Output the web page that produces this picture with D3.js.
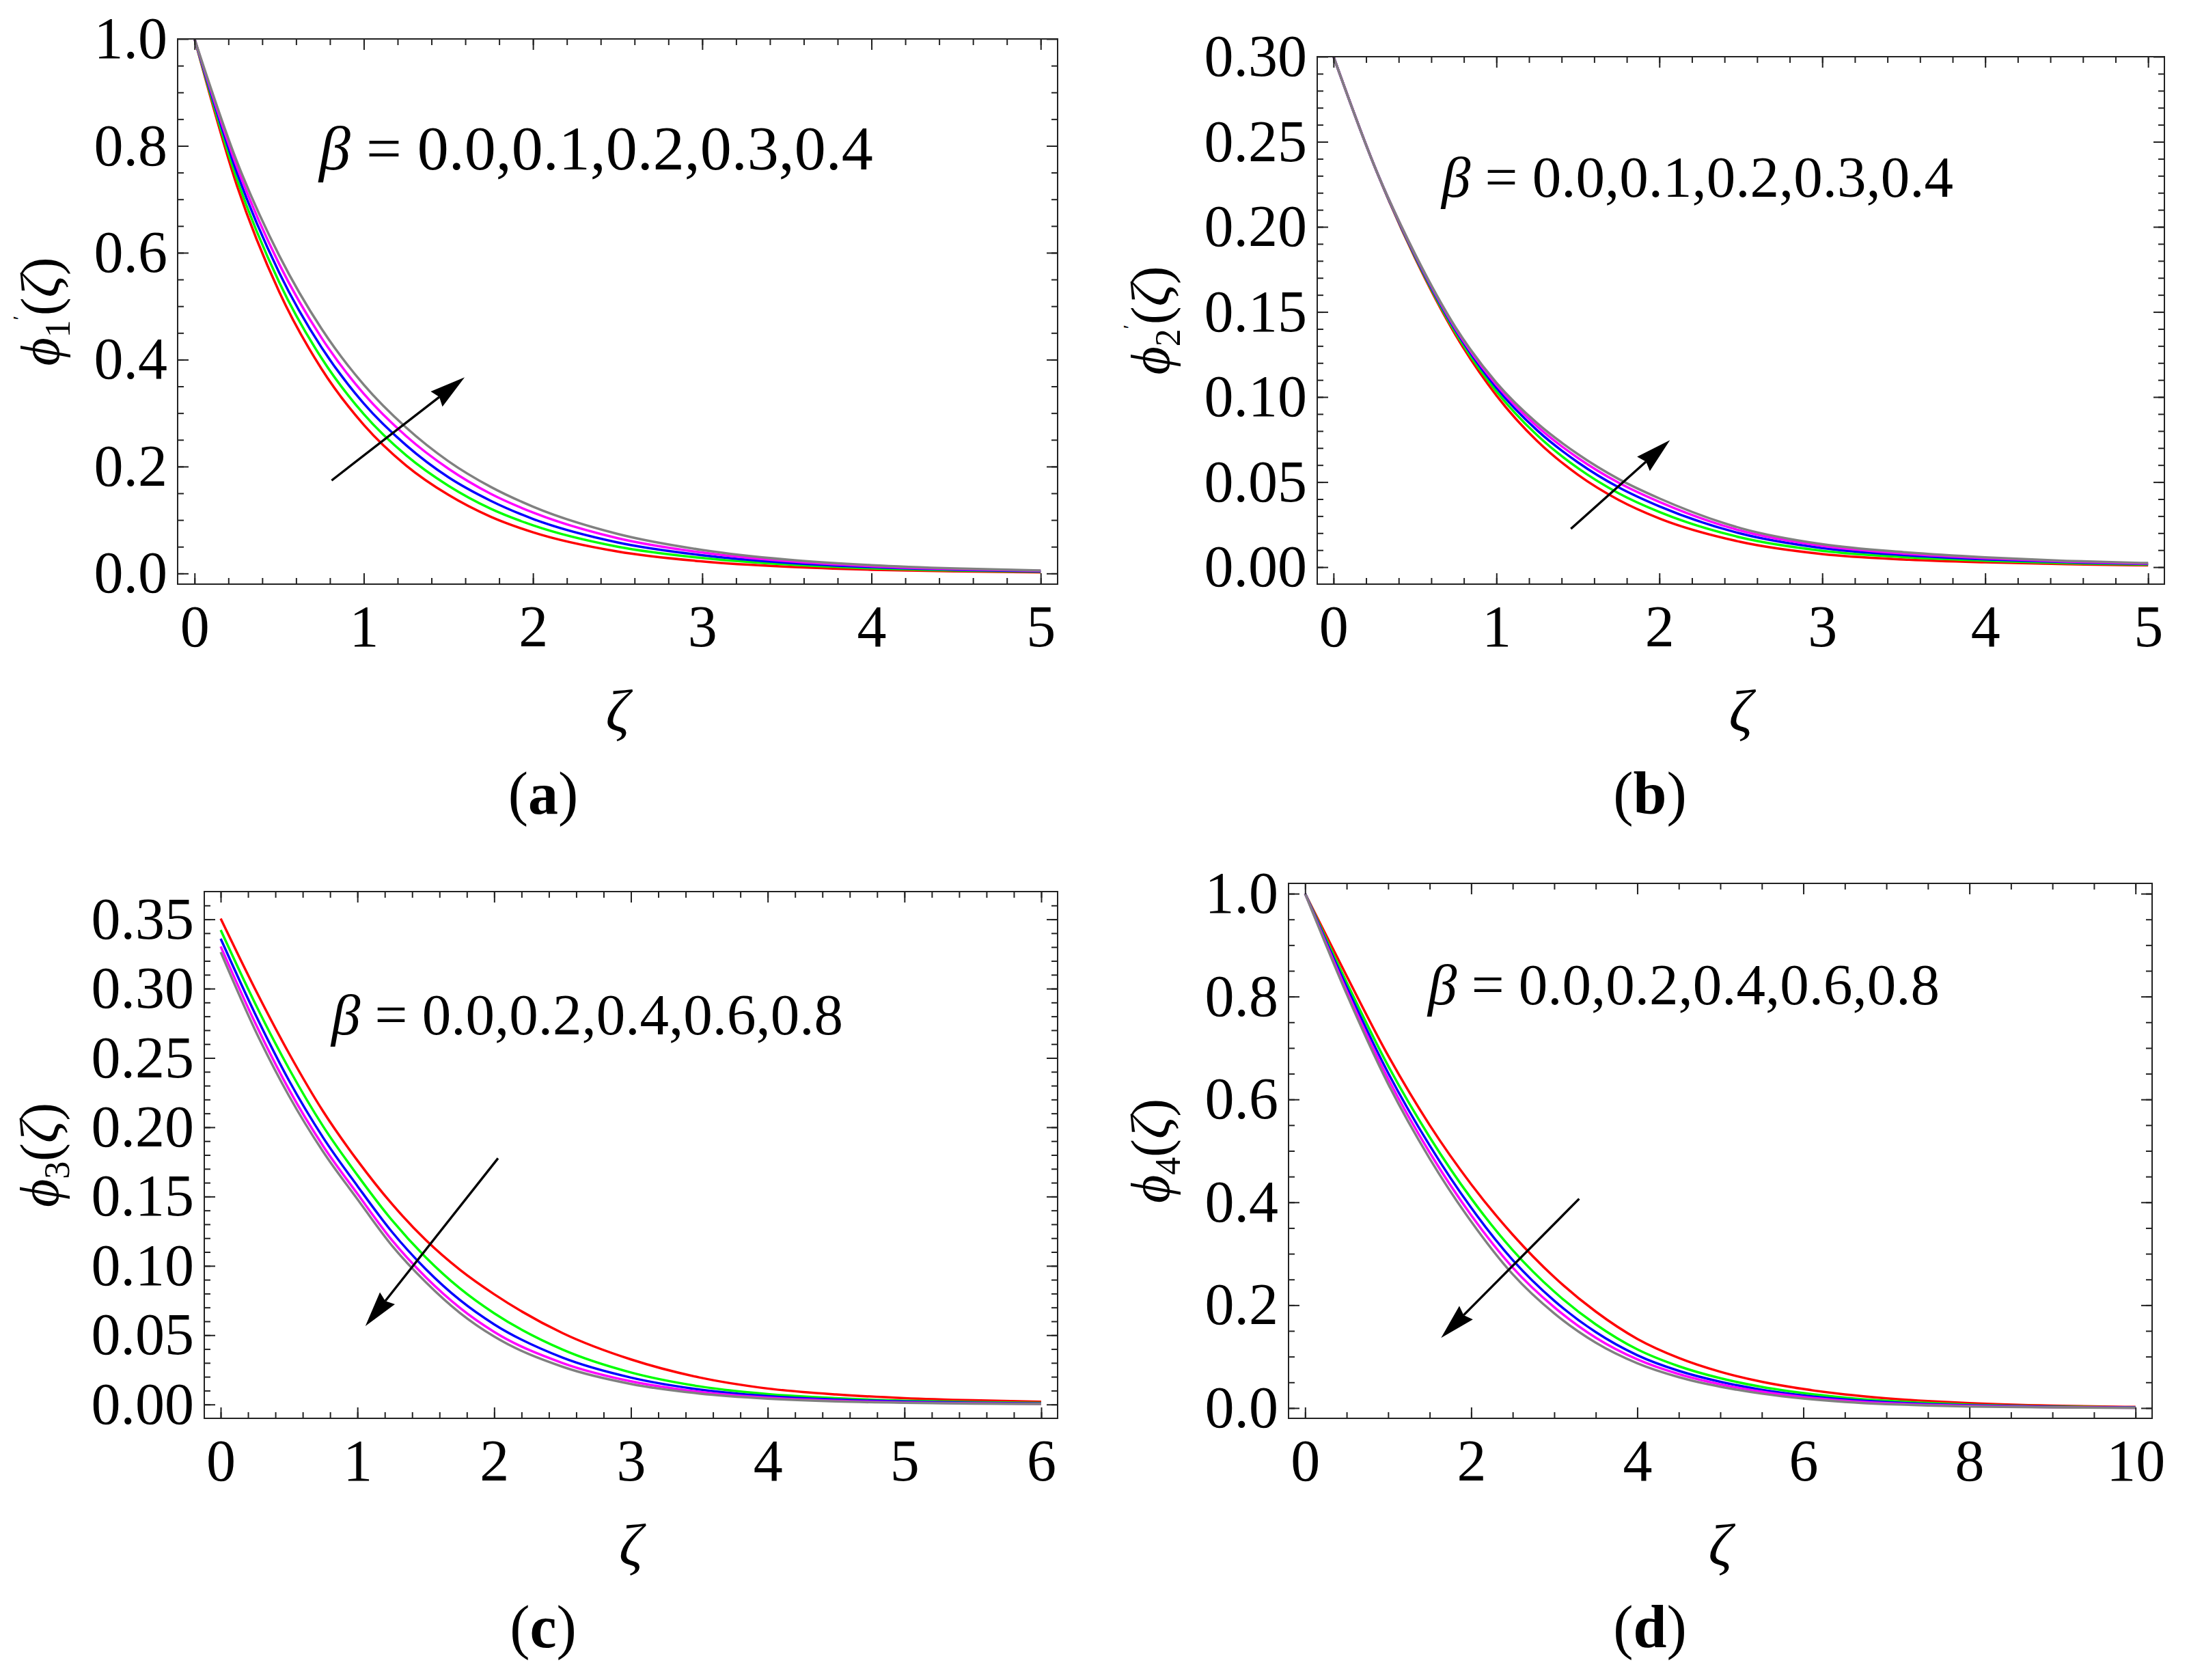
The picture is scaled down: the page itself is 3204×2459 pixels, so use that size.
<!doctype html>
<html lang="en">
<head>
<meta charset="utf-8">
<title>phi profiles for beta</title>
<script src="https://d3js.org/d3.v7.min.js"></script>
<style>
  body { margin: 0; background: #fff; }
  svg { display: block; }
  text { font-family: "Liberation Serif", "Times New Roman", "DejaVu Serif", serif; fill: #000; }
</style>
</head>
<body>
<svg width="3204" height="2459"></svg>
<script>
// line colours, one per beta value (first = smallest beta)
var colors = ["#ff0000", "#00ff00", "#0000ff", "#ff00ff", "#808080"];

// ---- panel (a): phi1'
var betaA = [0.0, 0.1, 0.2, 0.3, 0.4];
var zetaA = [0, 0.25, 0.5, 0.75, 1, 1.25, 1.5, 1.75, 2, 2.5, 3, 3.5, 4, 4.5, 5];
var phi1 = [
  [1, 0.726, 0.527, 0.383, 0.278, 0.202, 0.147, 0.106, 0.077, 0.041, 0.0225, 0.0125, 0.0070, 0.0040, 0.0022],
  [1, 0.738, 0.545, 0.403, 0.298, 0.221, 0.164, 0.121, 0.090, 0.050, 0.029, 0.017, 0.0097, 0.0056, 0.0032],
  [1, 0.750, 0.563, 0.423, 0.318, 0.240, 0.180, 0.136, 0.102, 0.058, 0.034, 0.020, 0.0118, 0.0069, 0.0040],
  [1, 0.761, 0.579, 0.441, 0.336, 0.257, 0.196, 0.149, 0.114, 0.066, 0.039, 0.023, 0.0137, 0.0081, 0.0048],
  [1, 0.771, 0.595, 0.458, 0.353, 0.273, 0.210, 0.162, 0.125, 0.074, 0.044, 0.026, 0.0156, 0.0093, 0.0055]
];
var xTicksA = [0, 1, 2, 3, 4, 5];
var yTicksA = [0, 0.2, 0.4, 0.6, 0.8, 1.0];
var arrowA = [[0.81, 0.174], [1.596, 0.367]];

// ---- panel (b): phi2'
var betaB = [0.0, 0.1, 0.2, 0.3, 0.4];
var zetaB = [0, 0.25, 0.5, 0.75, 1, 1.25, 1.5, 1.75, 2, 2.5, 3, 3.5, 4, 4.5, 5];
var phi2 = [
  [0.3, 0.236, 0.1817, 0.1363, 0.1009, 0.0741, 0.0543, 0.0395, 0.0286, 0.0148, 0.0077, 0.0045, 0.0028, 0.0017, 0.0010],
  [0.3, 0.236, 0.1825, 0.1377, 0.1033, 0.0775, 0.0582, 0.0434, 0.0324, 0.0174, 0.0096, 0.0059, 0.0038, 0.0023, 0.0014],
  [0.3, 0.236, 0.1831, 0.1390, 0.1054, 0.0804, 0.0616, 0.0469, 0.0357, 0.0197, 0.0112, 0.0071, 0.0046, 0.0029, 0.0018],
  [0.3, 0.236, 0.1837, 0.1400, 0.1071, 0.0827, 0.0642, 0.0496, 0.0383, 0.0214, 0.0125, 0.0080, 0.0053, 0.0033, 0.0021],
  [0.3, 0.236, 0.1841, 0.1408, 0.1084, 0.0846, 0.0664, 0.0518, 0.0404, 0.0229, 0.0135, 0.0088, 0.0058, 0.0037, 0.0024]
];
var xTicksB = [0, 1, 2, 3, 4, 5];
var yTicksB = [0, 0.05, 0.10, 0.15, 0.20, 0.25, 0.30];
var arrowB = [[1.457, 0.0225], [2.065, 0.0746]];

// ---- panel (c): phi3
var betaC = [0.0, 0.2, 0.4, 0.6, 0.8];
var zetaC = [0, 0.25, 0.5, 0.75, 1, 1.25, 1.5, 1.75, 2, 2.5, 3, 3.5, 4, 4.5, 5, 5.5, 6];
var phi3 = [
  [0.3505, 0.300, 0.2532, 0.2113, 0.176, 0.1449, 0.1186, 0.0971, 0.0795, 0.0515, 0.0325, 0.0195, 0.0115, 0.0072, 0.0046, 0.0030, 0.0020],
  [0.3423, 0.2897, 0.2421, 0.2005, 0.1654, 0.1332, 0.1061, 0.0837, 0.0658, 0.0396, 0.0231, 0.0131, 0.0075, 0.0045, 0.0027, 0.0017, 0.0011],
  [0.336, 0.2822, 0.2336, 0.1924, 0.1576, 0.1248, 0.0976, 0.0753, 0.0578, 0.0338, 0.0194, 0.0108, 0.0060, 0.0035, 0.0021, 0.0012, 0.0007],
  [0.3304, 0.2757, 0.2271, 0.1863, 0.152, 0.1188, 0.0918, 0.0697, 0.0524, 0.0299, 0.0167, 0.0091, 0.0049, 0.0027, 0.0015, 0.0008, 0.0005],
  [0.3263, 0.2705, 0.2225, 0.1822, 0.1481, 0.1149, 0.0882, 0.0660, 0.0490, 0.0272, 0.0148, 0.0079, 0.0042, 0.0022, 0.0012, 0.0006, 0.0003]
];
var xTicksC = [0, 1, 2, 3, 4, 5, 6];
var yTicksC = [0, 0.05, 0.10, 0.15, 0.20, 0.25, 0.30, 0.35];
var arrowC = [[2.028, 0.1776], [1.058, 0.0565]];

// ---- panel (d): phi4
var betaD = [0.0, 0.2, 0.4, 0.6, 0.8];
var zetaD = [0, 0.5, 1, 1.5, 2, 2.5, 3, 3.5, 4, 4.5, 5, 5.5, 6, 6.5, 7, 7.5, 8, 9, 10];
var phi4 = [
  [1, 0.840, 0.685, 0.550, 0.435, 0.337, 0.2545, 0.1875, 0.1345, 0.0974, 0.0705, 0.0510, 0.0370, 0.0265, 0.0190, 0.0135, 0.0095, 0.0045, 0.0021],
  [1, 0.8274, 0.6652, 0.5266, 0.4075, 0.3070, 0.2263, 0.1627, 0.1141, 0.0813, 0.0580, 0.0411, 0.0290, 0.0203, 0.0141, 0.0098, 0.0067, 0.0030, 0.0014],
  [1, 0.8187, 0.6515, 0.5104, 0.3893, 0.2877, 0.2087, 0.1476, 0.1027, 0.0723, 0.0511, 0.0356, 0.0246, 0.0168, 0.0114, 0.0077, 0.0051, 0.0021, 0.0009],
  [1, 0.8113, 0.6399, 0.4967, 0.3748, 0.2731, 0.1960, 0.1367, 0.0946, 0.0660, 0.0461, 0.0317, 0.0215, 0.0143, 0.0095, 0.0063, 0.0041, 0.0016, 0.0006],
  [1, 0.805, 0.630, 0.485, 0.3625, 0.260, 0.184, 0.127, 0.087, 0.060, 0.0415, 0.028, 0.0185, 0.012, 0.0077, 0.0049, 0.0030, 0.0011, 0.0004]
];
var xTicksD = [0, 2, 4, 6, 8, 10];
var yTicksD = [0, 0.2, 0.4, 0.6, 0.8, 1.0];
var arrowD = [[3.30, 0.4068], [1.637, 0.1364]];

// ---- layout of the four frames (pixels) and their plot ranges
var panels = [
  { id: "a", sub: "1", prime: true, zeta: zetaA, series: phi1, beta: betaA, xTicks: xTicksA, yTicks: yTicksA,
    xMinor: 0.2, yMinor: 0.05, xFmt: d3.format("d"), yFmt: d3.format(".1f"), arrow: arrowA,
    left: 260, right: 1548, top: 57, bottom: 855, xDomain: [-0.1, 5.1], yDomain: [-0.02, 1.0],
    ylabX: 86, note: [0.736, 0.756], noteSize: 92, capX: 795, capY: 1191 },
  { id: "b", sub: "2", prime: true, zeta: zetaB, series: phi2, beta: betaB, xTicks: xTicksB, yTicks: yTicksB,
    xMinor: 0.2, yMinor: 0.01, xFmt: d3.format("d"), yFmt: d3.format(".2f"), arrow: arrowB,
    left: 1928, right: 3168, top: 83, bottom: 855, xDomain: [-0.1, 5.1], yDomain: [-0.01, 0.30],
    ylabX: 1711, note: [0.663, 0.2177], noteSize: 85, capX: 2415, capY: 1191 },
  { id: "c", sub: "3", prime: false, zeta: zetaC, series: phi3, beta: betaC, xTicks: xTicksC, yTicks: yTicksC,
    xMinor: 0.2, yMinor: 0.01, xFmt: d3.format("d"), yFmt: d3.format(".2f"), arrow: arrowC,
    left: 299, right: 1548, top: 1305, bottom: 2076, xDomain: [-0.12, 6.12], yDomain: [-0.01, 0.37],
    ylabX: 85, note: [0.809, 0.267], noteSize: 85, capX: 795, capY: 2411 },
  { id: "d", sub: "4", prime: false, zeta: zetaD, series: phi4, beta: betaD, xTicks: xTicksD, yTicks: yTicksD,
    xMinor: 0.5, yMinor: 0.05, xFmt: d3.format("d"), yFmt: d3.format(".1f"), arrow: arrowD,
    left: 1886, right: 3150, top: 1293, bottom: 2076, xDomain: [-0.2, 10.2], yDomain: [-0.02, 1.02],
    ylabX: 1711, note: [1.479, 0.785], noteSize: 85, capX: 2415, capY: 2411 }
];

var svg = d3.select("svg");
svg.append("rect").attr("width", 3204).attr("height", 2459).attr("fill", "#fff");
var defs = svg.append("defs");

var minorValues = function(domain, step){
  var n = Math.floor(domain[1] / step + 1e-6);
  return d3.range(0, n + 1).map(function(i){ return +(i * step).toFixed(6); })
    .filter(function(v){ return v < domain[1] - step * 0.3; });
};

var addTicks = function(g, axis, values, size, fmt, pad, transform){
  var a = g.append("g").attr("transform", transform)
    .call(axis.tickValues(values).tickSizeInner(-size).tickSizeOuter(0).tickPadding(pad)
      .tickFormat(fmt || function(){ return ""; }));
  a.select(".domain").remove();
  a.attr("font-family", null).attr("font-size", null);
  a.selectAll("line").attr("stroke", "#222").attr("stroke-width", 2);
  a.selectAll("text").attr("font-size", 86).attr("fill", "#000");
  return a;
};

var drawPanel = function(p){
  var g = svg.append("g").attr("class", "panel-" + p.id);
  var x = d3.scaleLinear().domain(p.xDomain).range([p.left, p.right]);
  var y = d3.scaleLinear().domain(p.yDomain).range([p.bottom, p.top]);

  defs.append("clipPath").attr("id", "clip-" + p.id).append("rect")
    .attr("x", p.left).attr("y", p.top).attr("width", p.right - p.left).attr("height", p.bottom - p.top);

  var line = d3.line()
    .x(function(d, i){ return x(p.zeta[i]); })
    .y(function(d){ return y(d); })
    .curve(d3.curveMonotoneX);

  g.append("g").attr("clip-path", "url(#clip-" + p.id + ")")
    .selectAll("path").data(p.series)
    .join("path")
      .attr("d", line)
      .attr("fill", "none")
      .attr("stroke", function(d, i){ return colors[i]; })
      .attr("stroke-width", 3.5)
      .attr("stroke-linejoin", "round");

  // frame
  g.append("rect").attr("x", p.left).attr("y", p.top)
    .attr("width", p.right - p.left).attr("height", p.bottom - p.top)
    .attr("fill", "none").attr("stroke", "#222").attr("stroke-width", 2);

  var xm = minorValues(p.xDomain, p.xMinor), ym = minorValues(p.yDomain, p.yMinor);
  addTicks(g, d3.axisBottom(x), p.xTicks, 16, p.xFmt, 30, "translate(0," + p.bottom + ")");
  addTicks(g, d3.axisBottom(x), xm, 9, null, 0, "translate(0," + p.bottom + ")");
  addTicks(g, d3.axisTop(x), p.xTicks, 16, null, 0, "translate(0," + p.top + ")");
  addTicks(g, d3.axisTop(x), xm, 9, null, 0, "translate(0," + p.top + ")");
  addTicks(g, d3.axisLeft(y), p.yTicks, 16, p.yFmt, 15, "translate(" + p.left + ",0)");
  addTicks(g, d3.axisLeft(y), ym, 9, null, 0, "translate(" + p.left + ",0)");
  addTicks(g, d3.axisRight(y), p.yTicks, 16, null, 0, "translate(" + p.right + ",0)");
  addTicks(g, d3.axisRight(y), ym, 9, null, 0, "translate(" + p.right + ",0)");

  // arrow
  var x1 = x(p.arrow[0][0]), y1 = y(p.arrow[0][1]);
  var x2 = x(p.arrow[1][0]), y2 = y(p.arrow[1][1]);
  var len = Math.hypot(x2 - x1, y2 - y1);
  var ux = (x2 - x1) / len, uy = (y2 - y1) / len;
  var nx = -uy, ny = ux;
  var L = 52, W = 14, notch = 5;
  g.append("line")
    .attr("x1", x1).attr("y1", y1)
    .attr("x2", x2 - (L - notch) * ux).attr("y2", y2 - (L - notch) * uy)
    .attr("stroke", "#000").attr("stroke-width", 3.4);
  g.append("path")
    .attr("d", "M" + x2 + "," + y2 +
      "L" + (x2 - L * ux + W * nx) + "," + (y2 - L * uy + W * ny) +
      "L" + (x2 - (L - notch) * ux) + "," + (y2 - (L - notch) * uy) +
      "L" + (x2 - L * ux - W * nx) + "," + (y2 - L * uy - W * ny) + "Z")
    .attr("fill", "#000");

  // beta note
  var note = g.append("text")
    .attr("x", x(p.note[0])).attr("y", y(p.note[1]))
    .attr("font-size", p.noteSize);
  note.append("tspan").attr("font-style", "italic").text("β");
  note.append("tspan").text(" = " + p.beta.map(function(b){ return b.toFixed(1); }).join(","));

  // y label, rotated
  var yl = g.append("text")
    .attr("transform", "translate(" + p.ylabX + "," + ((p.top + p.bottom) / 2) + ") rotate(-90)")
    .attr("text-anchor", "middle").attr("font-size", 80);
  yl.append("tspan").attr("font-style", "italic").text("ϕ");
  yl.append("tspan").attr("font-size", 52).attr("dy", 16).text(p.sub);
  if (p.prime) {
    yl.append("tspan").attr("font-size", 28).attr("dy", -64).text("′");
    yl.append("tspan").attr("dy", 48).text("(");
  } else {
    yl.append("tspan").attr("dy", -16).text("(");
  }
  yl.append("tspan").attr("font-style", "italic").text("ζ");
  yl.append("tspan").text(")");

  // x label
  g.append("text")
    .attr("x", (p.left + p.right) / 2).attr("y", p.bottom + 215)
    .attr("text-anchor", "middle").attr("font-size", 86).attr("font-style", "italic")
    .text("ζ");

  // caption
  var cap = g.append("text").attr("x", p.capX).attr("y", p.capY)
    .attr("text-anchor", "middle").attr("font-size", 88);
  cap.append("tspan").text("(");
  cap.append("tspan").attr("font-weight", "bold").text(p.id);
  cap.append("tspan").text(")");
};

panels.forEach(drawPanel);
</script>
</body>
</html>
